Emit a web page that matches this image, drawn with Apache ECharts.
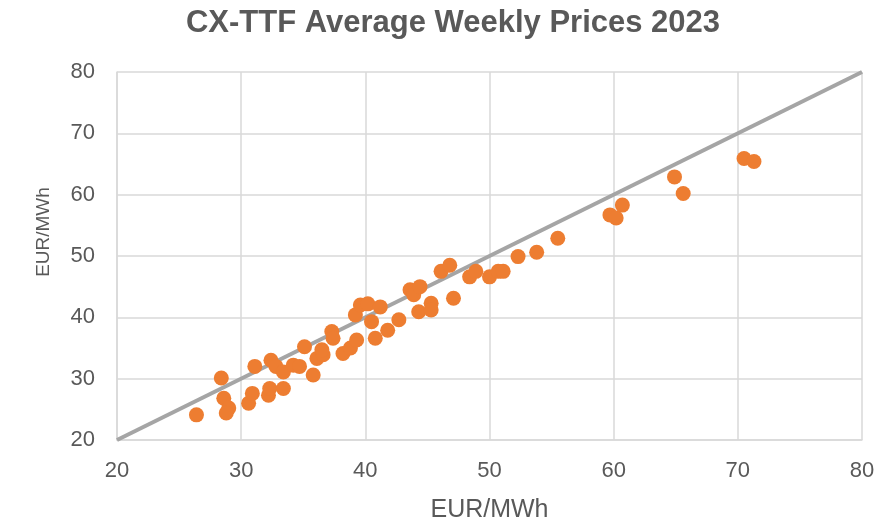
<!DOCTYPE html>
<html>
<head>
	<meta charset="utf-8" />
	<title>CX-TTF Average Weekly Prices 2023</title>
	<style type="text/css">
		html,body{margin:0;padding:0;background:#fff;}
		#chart{width:879px;height:520px;}
	</style>
</head>
<body>
<div id="chart"></div>
<script src="https://cdn.jsdelivr.net/npm/echarts@6/dist/echarts.min.js"></script>
<script>
	// weekly prices (x, y) in EUR/MWh
	var priceX = [26.4, 28.4, 28.6, 29.0, 28.8, 30.6, 30.9, 31.1, 32.2, 32.3, 32.4, 32.8, 33.4, 33.4, 34.2, 34.7,
		35.1, 35.8, 36.1, 36.6, 36.5, 37.3, 37.4, 38.2, 38.8, 39.3, 39.2, 39.6, 40.2, 41.2, 40.5, 40.8, 41.8, 42.7,
		43.6, 43.9, 44.4, 44.3, 45.3, 45.3, 46.1, 46.8, 47.1, 48.4, 48.9, 50.0, 50.7, 51.1, 52.3, 53.8, 55.5,
		59.7, 60.2, 60.7, 64.9, 65.6, 70.5, 71.3];
	var priceY = [24.1, 30.1, 26.8, 25.2, 24.4, 26.0, 27.6, 32.0, 27.3, 28.4, 33.0, 32.0, 28.4, 31.1, 32.2, 32.0,
		35.2, 30.6, 33.3, 33.9, 34.7, 37.7, 36.6, 34.1, 35.0, 36.3, 40.4, 42.0, 42.2, 41.7, 39.3, 36.6, 37.9, 39.6,
		44.5, 43.7, 45.0, 40.9, 42.3, 41.2, 47.5, 48.5, 43.1, 46.6, 47.5, 46.6, 47.5, 47.5, 49.9, 50.6, 52.9,
		56.7, 56.2, 58.3, 62.9, 60.2, 65.9, 65.4];
	// y = x reference line ends
	var refLine = [20, 80];
	var axisTicks = [20, 30, 40, 50, 60, 70, 80];

	var points = priceX.map(function(x, i){ return [x, priceY[i]]; });
	var txt = '#595959';
	var font = 'Liberation Sans';

	var chart = echarts.init(document.getElementById('chart'));
	chart.setOption({
		animation: false,
		title: {
			text: 'CX-TTF Average Weekly Prices 2023',
			left: 448,
			textAlign: 'center',
			top: 3,
			textStyle: {color: txt, fontSize: 31, fontWeight: 'bold', fontFamily: font}
		},
		// y axis name sits a little above the middle of the plot
		graphic: [{
			type: 'text',
			x: 44, y: 232,
			rotation: Math.PI / 2,
			style: {
				text: 'EUR/MWh', fill: txt, fontSize: 19, fontFamily: font,
				textAlign: 'center', textVerticalAlign: 'middle'
			}
		}],
		grid: {left: 117, right: 17, top: 72, bottom: 80, outerBoundsMode: 'none'},
		xAxis: {
			type: 'value',
			min: axisTicks[0], max: axisTicks[axisTicks.length - 1], interval: 10,
			name: 'EUR/MWh', nameLocation: 'middle', nameGap: 58,
			nameTextStyle: {color: txt, fontSize: 25, fontFamily: font},
			axisLine: {show: true, lineStyle: {color: '#d9d9d9', width: 1.5}},
			axisTick: {show: false},
			axisLabel: {color: txt, fontSize: 22, fontFamily: font, margin: 20},
			splitLine: {lineStyle: {color: '#d9d9d9', width: 1.5}}
		},
		yAxis: {
			type: 'value',
			min: axisTicks[0], max: axisTicks[axisTicks.length - 1], interval: 10,
			axisLine: {show: true, lineStyle: {color: '#d9d9d9', width: 1.5}},
			axisTick: {show: false},
			axisLabel: {color: txt, fontSize: 22, fontFamily: font, margin: 22},
			splitLine: {lineStyle: {color: '#d9d9d9', width: 1.5}}
		},
		series: [{
			type: 'line',
			data: [[refLine[0], refLine[0]], [refLine[1], refLine[1]]],
			symbol: 'none',
			lineStyle: {color: '#a5a5a5', width: 4},
			z: 1
		}, {
			type: 'scatter',
			data: points,
			symbolSize: 15,
			itemStyle: {color: '#ed7d31', opacity: 1},
			z: 2
		}]
	});
</script>
</body>
</html>
